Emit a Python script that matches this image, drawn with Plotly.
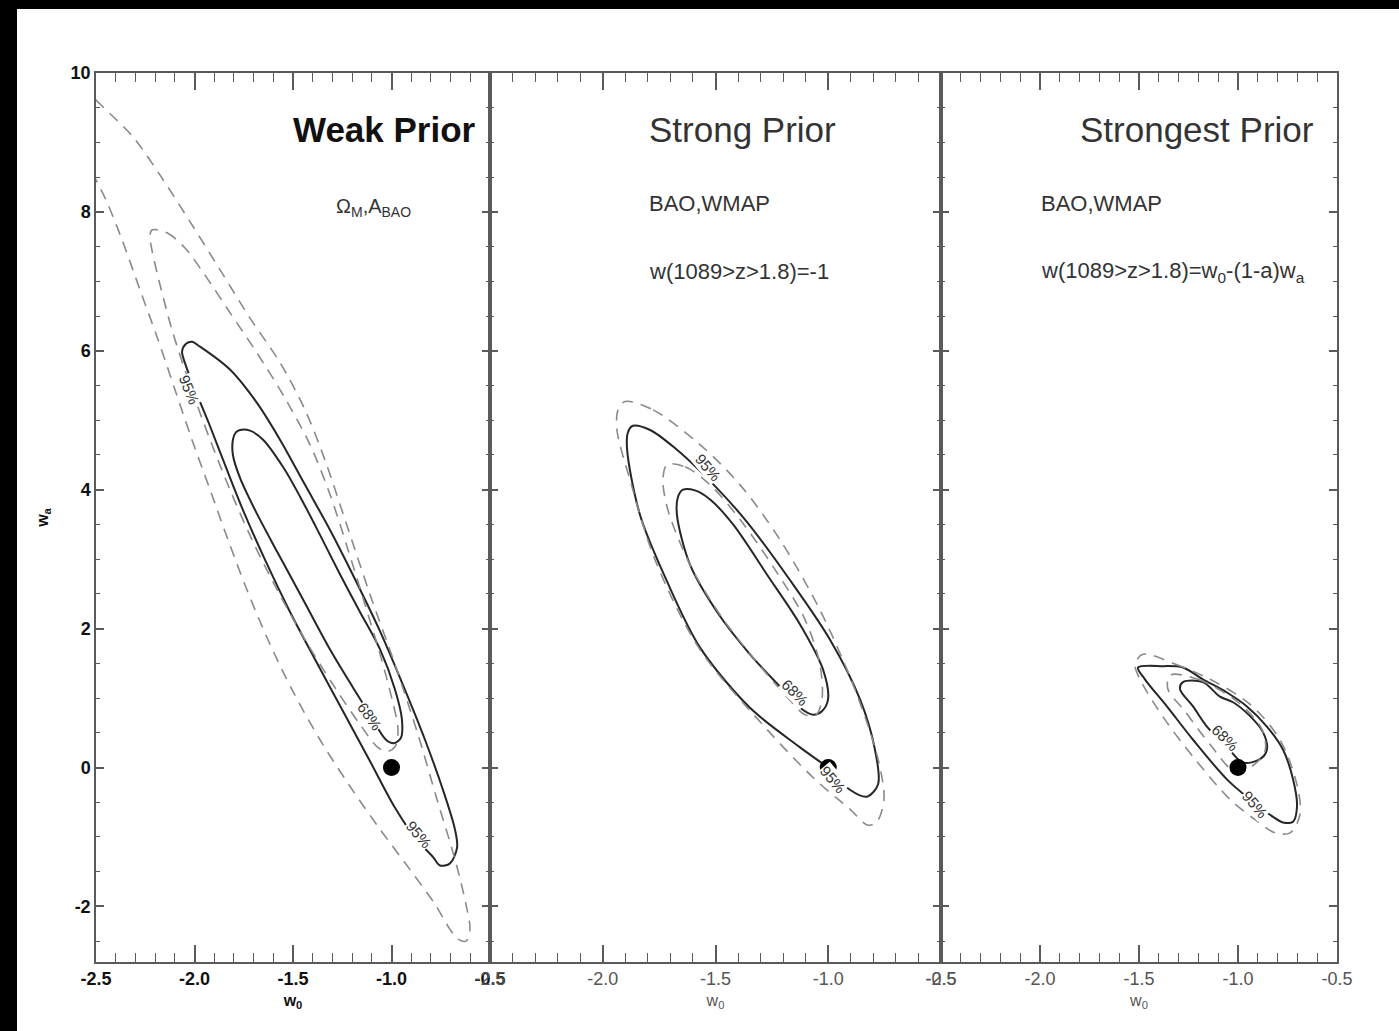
import plotly.graph_objects as go

FONT = "Liberation Sans, Arial, Helvetica, sans-serif"

# ---------------- data ----------------
x_ticks = [-2.5, -2.0, -1.5, -1.0, -0.5]
x_ticktext = ["-2.5", "-2.0", "-1.5", "-1.0", "-0.5"]
y_ticks = [-2, 0, 2, 4, 6, 8, 10]
y_ticktext = ["-2", "0", "2", "4", "6", "8", "10"]

fiducial_w0 = [-1.0]
fiducial_wa = [0.0]

# Panel 1 : Weak prior
p1_s95_x = [-2.013, -1.972, -1.820, -1.683, -1.566, -1.439, -1.312, -1.185, -1.058, -0.942, -0.830,
            -0.739, -0.678, -0.667, -0.703, -0.754, -0.789, -0.881, -0.982, -1.109, -1.246, -1.383,
            -1.515, -1.637, -1.744, -1.840, -1.926, -1.997, -2.043, -2.063, -2.043, -2.013]
p1_s95_y = [6.13, 6.06, 5.73, 5.25, 4.72, 4.07, 3.42, 2.71, 1.96, 1.19, 0.40,
            -0.32, -0.89, -1.15, -1.38, -1.41, -1.29, -1.01, -0.58, 0.09, 0.81, 1.53,
            2.24, 2.96, 3.64, 4.32, 4.95, 5.44, 5.78, 5.99, 6.10, 6.13]
p1_s68_x = [-1.769, -1.718, -1.652, -1.551, -1.464, -1.363, -1.261, -1.160, -1.058, -0.982, -0.947,
            -0.952, -0.987, -1.028, -1.109, -1.195, -1.312, -1.449, -1.581, -1.693, -1.769, -1.805,
            -1.805, -1.789, -1.769]
p1_s68_y = [4.86, 4.85, 4.72, 4.33, 3.90, 3.35, 2.78, 2.24, 1.70, 1.12, 0.69,
            0.43, 0.35, 0.40, 0.76, 1.15, 1.70, 2.42, 3.11, 3.71, 4.17, 4.50,
            4.72, 4.83, 4.86]
p1_d95_x = [-2.581, -2.500, -2.464, -2.312, -2.175, -2.023, -1.871, -1.718, -1.566, -1.439, -1.338,
            -1.236, -1.109, -0.982, -0.865, -0.769, -0.678, -0.622, -0.602, -0.622, -0.662, -0.703,
            -0.779, -0.906, -1.058, -1.211, -1.363, -1.505, -1.627, -1.734, -1.830, -1.921, -2.013,
            -2.099, -2.185, -2.277, -2.368, -2.449, -2.500, -2.581, -2.632, -2.581]
p1_d95_y = [9.78, 9.61, 9.51, 9.08, 8.53, 7.86, 7.17, 6.47, 5.83, 5.15, 4.43,
            3.57, 2.49, 1.48, 0.47, -0.46, -1.32, -1.97, -2.33, -2.50, -2.47, -2.33,
            -1.97, -1.47, -0.89, -0.27, 0.40, 1.12, 1.84, 2.56, 3.28, 4.00, 4.72,
            5.44, 6.16, 6.88, 7.60, 8.17, 8.46, 8.89, 9.47, 9.78]
p1_d68_x = [-2.216, -2.140, -2.048, -1.947, -1.820, -1.683, -1.541, -1.414, -1.312, -1.221, -1.135,
            -1.058, -0.997, -0.967, -0.982, -1.023, -1.069, -1.160, -1.287, -1.439, -1.581, -1.708,
            -1.820, -1.921, -2.023, -2.114, -2.175, -2.216, -2.226, -2.216]
p1_d68_y = [7.74, 7.70, 7.48, 7.09, 6.55, 5.97, 5.32, 4.65, 3.93, 3.14, 2.35,
            1.63, 0.98, 0.55, 0.30, 0.23, 0.29, 0.62, 1.15, 1.84, 2.56, 3.28,
            4.00, 4.72, 5.51, 6.30, 6.95, 7.45, 7.65, 7.74]

# Panel 2 : Strong prior
p2_s95_x = [-1.866, -1.790, -1.680, -1.538, -1.369, -1.170, -0.992, -0.859, -0.793, -0.779, -0.828,
            -0.904, -0.992, -1.125, -1.347, -1.569, -1.715, -1.835, -1.892, -1.888, -1.866]
p2_s95_y = [4.92, 4.86, 4.60, 4.17, 3.57, 2.70, 1.84, 0.98, 0.26, -0.24, -0.42,
            -0.32, -0.03, 0.29, 0.86, 1.73, 2.68, 3.64, 4.58, 4.83, 4.92]
p2_s68_x = [-1.644, -1.591, -1.524, -1.422, -1.272, -1.125, -1.023, -1.001, -1.028, -1.068, -1.125,
            -1.201, -1.347, -1.493, -1.613, -1.671, -1.666, -1.644]
p2_s68_y = [4.00, 3.99, 3.86, 3.50, 2.78, 2.06, 1.41, 0.98, 0.81, 0.76, 0.86,
            1.12, 1.63, 2.24, 2.92, 3.64, 3.90, 4.00]
p2_d95_x = [-1.901, -1.777, -1.569, -1.391, -1.214, -1.037, -0.881, -0.779, -0.753, -0.784, -0.824,
            -0.904, -1.059, -1.272, -1.569, -1.768, -1.879, -1.937, -1.932, -1.901]
p2_d95_y = [5.27, 5.15, 4.65, 4.07, 3.28, 2.27, 1.12, 0.12, -0.46, -0.78, -0.83,
            -0.60, -0.17, 0.55, 1.70, 2.99, 4.14, 4.86, 5.15, 5.27]
p2_d68_x = [-1.715, -1.635, -1.524, -1.391, -1.236, -1.103, -1.037, -1.028, -1.054, -1.103, -1.192,
            -1.325, -1.480, -1.613, -1.711, -1.733, -1.715]
p2_d68_y = [4.36, 4.33, 4.07, 3.57, 2.85, 2.13, 1.48, 0.98, 0.76, 0.76, 1.05,
            1.55, 2.20, 2.92, 3.71, 4.14, 4.36]

# Panel 3 : Strongest prior
p3_s95_x = [-1.505, -1.379, -1.278, -1.177, -1.056, -0.955, -0.854, -0.773, -0.722, -0.702, -0.722,
            -0.773, -0.823, -0.939, -1.056, -1.227, -1.359, -1.470, -1.505]
p3_s95_y = [1.44, 1.46, 1.44, 1.27, 1.08, 0.88, 0.59, 0.26, -0.17, -0.56, -0.78,
            -0.79, -0.71, -0.46, -0.17, 0.40, 0.88, 1.27, 1.44]
p3_s68_x = [-1.278, -1.177, -1.091, -1.025, -0.939, -0.874, -0.854, -0.889, -0.975, -1.056, -1.157,
            -1.227, -1.293, -1.278]
p3_s68_y = [1.23, 1.23, 1.02, 0.94, 0.74, 0.51, 0.26, 0.12, 0.07, 0.30, 0.59,
            0.88, 1.13, 1.23]
p3_d95_x = [-1.480, -1.318, -1.141, -0.939, -0.788, -0.702, -0.687, -0.737, -0.813, -0.914, -1.040,
            -1.217, -1.369, -1.495, -1.520, -1.480]
p3_d95_y = [1.63, 1.49, 1.27, 0.91, 0.40, -0.25, -0.68, -0.94, -0.94, -0.75, -0.46,
            0.12, 0.69, 1.27, 1.49, 1.63]
p3_d68_x = [-1.343, -1.202, -1.000, -0.879, -0.864, -0.939, -1.015, -1.141, -1.268, -1.354, -1.343]
p3_d68_y = [1.33, 1.27, 0.94, 0.55, 0.23, 0.00, -0.06, 0.33, 0.81, 1.13, 1.33]

# contour labels: (panel, text, x, y, angle)
label_panel = [1, 1, 1, 2, 2, 2, 3, 3]
label_text = ["95%", "68%", "95%", "95%", "68%", "95%", "68%", "95%"]
label_x = [-2.028, -1.109, -0.860, -1.533, -1.147, -0.979, -1.066, -0.914]
label_y = [5.44, 0.74, -0.96, 4.32, 1.08, -0.17, 0.43, -0.53]
label_angle = [68, 55, 50, 50, 45, 50, 45, 50]

# ---------------- figure ----------------
fig = go.Figure()

SOLID = dict(color="#262626", width=2)
DASH = dict(color="#8a8a8a", width=1.6, dash="11px,8px")

panels = [
    ("x", "y", [(p1_s95_x, p1_s95_y, SOLID), (p1_s68_x, p1_s68_y, SOLID),
                (p1_d95_x, p1_d95_y, DASH), (p1_d68_x, p1_d68_y, DASH)]),
    ("x2", "y2", [(p2_s95_x, p2_s95_y, SOLID), (p2_s68_x, p2_s68_y, SOLID),
                  (p2_d95_x, p2_d95_y, DASH), (p2_d68_x, p2_d68_y, DASH)]),
    ("x3", "y3", [(p3_s95_x, p3_s95_y, SOLID), (p3_s68_x, p3_s68_y, SOLID),
                  (p3_d95_x, p3_d95_y, DASH), (p3_d68_x, p3_d68_y, DASH)]),
]

for xa, ya, curves in panels:
    for cx, cy, st in curves:
        fig.add_trace(go.Scatter(x=cx, y=cy, mode="lines", xaxis=xa, yaxis=ya,
                                 line=dict(shape="spline", smoothing=0.9, **st),
                                 hoverinfo="skip", showlegend=False))
    fig.add_trace(go.Scatter(x=fiducial_w0, y=fiducial_wa, mode="markers", xaxis=xa, yaxis=ya,
                             marker=dict(size=17, color="black"), showlegend=False))

W, H = 1399, 1031
L, R, T, B = 96, 62, 73, 69
pw = W - L - R
d1 = 394 / pw
d2 = 845 / pw

AX_COL = "#5a5a5a"


def xaxis(domain, anchor, bold, color):
    return dict(domain=domain, anchor=anchor, range=[-2.5, -0.5], showgrid=False, zeroline=False,
                showline=True, linecolor=AX_COL, linewidth=1.5, mirror="allticks",
                ticks="inside", ticklen=17, tickwidth=1.5, tickcolor=AX_COL,
                tickmode="array", tickvals=x_ticks, ticktext=x_ticktext,
                tickfont=dict(family=FONT, size=18, color=color,
                              weight="bold" if bold else "normal"),
                minor=dict(ticks="inside", ticklen=9, tickwidth=1.2, tickcolor=AX_COL,
                           tickmode="linear", tick0=-2.5, dtick=0.1),
                title=dict(text="w<sub>0</sub>", standoff=6,
                           font=dict(family=FONT, size=16, color=color,
                                     weight="bold" if bold else "normal")))


def yaxis(anchor, showlabels):
    return dict(domain=[0, 1], anchor=anchor, range=[-2.8, 10], showgrid=False, zeroline=False,
                showline=True, linecolor=AX_COL, linewidth=1.5, mirror="allticks",
                ticks="inside", ticklen=8, tickwidth=1.5, tickcolor=AX_COL,
                tickmode="array", tickvals=y_ticks, ticktext=y_ticktext,
                showticklabels=showlabels,
                tickfont=dict(family=FONT, size=18, color="#111", weight="bold"),
                minor=dict(ticks="inside", ticklen=4, tickwidth=1.2, tickcolor=AX_COL,
                           tickmode="linear", tick0=-2.0, dtick=0.5))


fig.update_layout(
    width=W, height=H,
    margin=dict(l=L, r=R, t=T, b=B, pad=0),
    paper_bgcolor="white", plot_bgcolor="white",
    font=dict(family=FONT),
    xaxis=xaxis([0, d1], "y", True, "#111"),
    xaxis2=xaxis([d1, d2], "y2", False, "#555"),
    xaxis3=xaxis([d2, 1], "y3", False, "#555"),
    yaxis=yaxis("x", True),
    yaxis2=yaxis("x2", False),
    yaxis3=yaxis("x3", False),
)
fig.layout.yaxis.title = dict(text="w<sub>a</sub>", standoff=18,
                              font=dict(family=FONT, size=16, color="#111", weight="bold"))

# black frame bands (top and left edge of the picture)
top_band = (H - B - 9) / (H - T - B)
left_band = (17 - L) / pw
fig.add_shape(type="rect", xref="paper", yref="paper", x0=-0.2, x1=1.2, y0=top_band, y1=1.3,
              fillcolor="black", line_width=0, layer="above")
fig.add_shape(type="rect", xref="paper", yref="paper", x0=-0.2, x1=left_band, y0=-0.3, y1=1.3,
              fillcolor="black", line_width=0, layer="above")

# panel texts
fig.add_annotation(xref="x", yref="y", x=-0.561, y=9.18, text="<b>Weak Prior</b>", showarrow=False,
                   xanchor="right", yanchor="middle", font=dict(family=FONT, size=35, color="#111"))
fig.add_annotation(xref="x", yref="y", x=-1.089, y=8.07, text="Ω<sub>M</sub>,A<sub>BAO</sub>",
                   showarrow=False, xanchor="center", yanchor="middle",
                   font=dict(family=FONT, size=20, color="#333"))
fig.add_annotation(xref="x2", yref="y2", x=-1.805, y=9.18, text="Strong Prior", showarrow=False,
                   xanchor="left", yanchor="middle", font=dict(family=FONT, size=35, color="#333"))
fig.add_annotation(xref="x2", yref="y2", x=-1.805, y=8.12, text="BAO,WMAP", showarrow=False,
                   xanchor="left", yanchor="middle", font=dict(family=FONT, size=22, color="#333"))
fig.add_annotation(xref="x2", yref="y2", x=-1.805, y=7.14, text="w(1089&gt;z&gt;1.8)=-1", showarrow=False,
                   xanchor="left", yanchor="middle", font=dict(family=FONT, size=22, color="#333"))
fig.add_annotation(xref="x3", yref="y3", x=-0.606, y=9.18, text="Strongest Prior", showarrow=False,
                   xanchor="right", yanchor="middle", font=dict(family=FONT, size=35, color="#333"))
fig.add_annotation(xref="x3", yref="y3", x=-2.005, y=8.12, text="BAO,WMAP", showarrow=False,
                   xanchor="left", yanchor="middle", font=dict(family=FONT, size=22, color="#333"))
fig.add_annotation(xref="x3", yref="y3", x=-2.005, y=7.14,
                   text="w(1089&gt;z&gt;1.8)=w<sub>0</sub>-(1-a)w<sub>a</sub>", showarrow=False,
                   xanchor="left", yanchor="middle", font=dict(family=FONT, size=22, color="#333"))

# contour labels
for pn, t, lx, ly, ang in zip(label_panel, label_text, label_x, label_y, label_angle):
    sfx = "" if pn == 1 else str(pn)
    fig.add_annotation(xref="x" + sfx, yref="y" + sfx, x=lx, y=ly, text=t, showarrow=False,
                       textangle=ang, bgcolor="white", borderpad=0,
                       font=dict(family=FONT, size=15, color="#333"))

fig.write_html("out.html")
